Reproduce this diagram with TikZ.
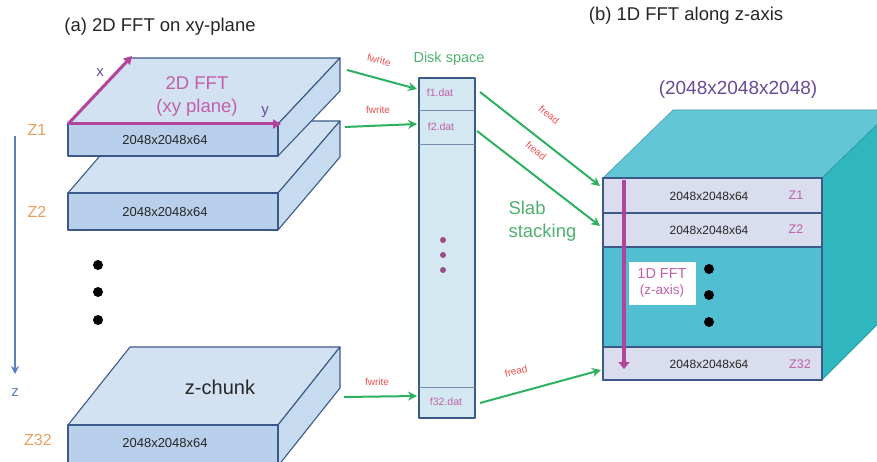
\documentclass[tikz,border=0pt]{standalone}
\usepackage{fontspec}
\setmainfont{Liberation Sans}
\usetikzlibrary{arrows.meta}
\definecolor{slabtop}{HTML}{D3E2F3}
\definecolor{slabfront}{HTML}{B9D0EC}
\definecolor{slabside}{HTML}{C6DAF0}
\definecolor{edge}{HTML}{3C5A88}
\definecolor{fftpurple}{HTML}{B2449C}
\definecolor{labpurple}{HTML}{C060A8}
\definecolor{zorange}{HTML}{E8A060}
\definecolor{zblue}{HTML}{5A80C0}
\definecolor{arrgreen}{HTML}{2DB060}
\definecolor{txtgreen}{HTML}{50B070}
\definecolor{fred}{HTML}{F05050}
\definecolor{diskfill}{HTML}{D4E8F2}
\definecolor{cubetop}{HTML}{62C6D6}
\definecolor{cubefront}{HTML}{52BED2}
\definecolor{cubeside}{HTML}{30B6BE}
\definecolor{rowfill}{HTML}{DADDEE}
\definecolor{dimpurple}{HTML}{6A4A9A}
\tikzset{
  face/.style={draw=edge, line width=1.1pt, line join=round},
  greenarrow/.style={draw=arrgreen, line width=2pt, -{Stealth[length=9pt,width=9pt]}},
  iolab/.style={text=fred, font=\fontsize{10}{11}\selectfont, inner sep=0pt},
  dimtxt/.style={font=\fontsize{13}{14}\selectfont, text=black!85},
  zlab/.style={text=zorange, font=\fontsize{16}{17}\selectfont},
  rowlab/.style={text=labpurple, font=\fontsize{12.5}{13}\selectfont},
  datlab/.style={text=labpurple, font=\fontsize{10.5}{11}\selectfont},
  bigdot/.style={circle, fill=black, inner sep=0pt, minimum size=10pt},
  diskdot/.style={circle, fill=labpurple!80!black, inner sep=0pt, minimum size=6pt},
  title/.style={font=\fontsize{18.5}{20}\selectfont, text=black!85},
}
\begin{document}
\begin{tikzpicture}[x=1pt,y=-1pt]
\useasboundingbox (0,0) rectangle (877,462);
\fill[white] (0,0) rectangle (877,462);

% titles
\node[title] (ta) at (160,27) {(a) 2D FFT on xy-plane};
\node[title] (tb) at (686,16) {(b) 1D FFT along z-axis};

% ---- slab 3 ----
\filldraw[face, fill=slabtop] (68,425) -- (278,425) -- (340,347) -- (130,347) -- cycle;
\filldraw[face, fill=slabside] (278,425) -- (340,347) -- (340,388) -- (278,466) -- cycle;
\filldraw[face, fill=slabfront] (68,425) rectangle (278,466);
\node[dimtxt] (d3) at (165,443) {2048x2048x64};
\node[font=\fontsize{20}{22}\selectfont, text=black!85] (zc) at (220,387) {z-chunk};

% z labels
\node[zlab] (z1) at (37,130) {Z1};
\node[zlab] (z2) at (37,212) {Z2};
\node[zlab] (z32) at (38,440) {Z32};
\coordinate (zs) at (15,136);
\coordinate (ze) at (15,374);
\draw[draw=zblue, line width=1.6pt, -{Stealth[length=8pt,width=8pt]}] (zs) -- (ze);
\node[text=zblue, font=\fontsize{15}{16}\selectfont] (zz) at (15,393) {z};

% dots
\node[bigdot] (b1) at (98,265) {};
\node[bigdot] (b2) at (98,292) {};
\node[bigdot] (b3) at (98,320) {};

% ---- disk ----
\filldraw[face, fill=diskfill, line width=1.3pt] (419,78) rectangle (475,418);
\draw[draw=edge!70, line width=0.6pt] (419,110) -- (475,110);
\draw[draw=edge!70, line width=0.6pt] (419,144) -- (475,144);
\draw[draw=edge!70, line width=0.6pt] (419,387) -- (475,387);
\node[font=\fontsize{14.5}{15}\selectfont, text=txtgreen] (ds) at (449,59) {Disk space};
\node[datlab] (f1) at (440,93) {f1.dat};
\node[datlab] (f2) at (441,127) {f2.dat};
\node[datlab] (f32) at (446,402) {f32.dat};
\node[diskdot] (dd1) at (443,240) {};
\node[diskdot] (dd2) at (443,255) {};
\node[diskdot] (dd3) at (443,270) {};
\coordinate (f1in) at (417,89);
\coordinate (f2in) at (417,124);
\coordinate (f32in) at (417,396);
\coordinate (f1out) at (480,92);
\coordinate (f2out) at (477,131);
\coordinate (f32out) at (480,403);

% ---- big cube ----
\filldraw[fill=cubetop, draw=cubetop!80!black, line width=0.6pt] (603,178) -- (822,178) -- (892,110) -- (673,110) -- cycle;
\filldraw[fill=cubeside, draw=cubeside!85!black, line width=0.6pt] (822,178) -- (892,110) -- (892,310) -- (822,380) -- cycle;
\filldraw[face, fill=cubefront] (603,178) rectangle (822,380);
\filldraw[face, fill=rowfill] (603,178) rectangle (822,213);
\filldraw[face, fill=rowfill] (603,213) rectangle (822,247);
\filldraw[face, fill=rowfill] (603,347) rectangle (822,380);
\node[font=\fontsize{12}{13}\selectfont, text=black!85] (r1) at (709,196) {2048x2048x64};
\node[font=\fontsize{12}{13}\selectfont, text=black!85] (r2) at (709,230) {2048x2048x64};
\node[font=\fontsize{12}{13}\selectfont, text=black!85] (r32) at (709,364) {2048x2048x64};
\node[rowlab] (q1) at (796,195) {Z1};
\node[rowlab] (q2) at (796,229) {Z2};
\node[rowlab] (q32) at (800,364) {Z32};
\node[text=dimpurple, font=\fontsize{19}{20}\selectfont] (dim) at (738,90) {(2048x2048x2048)};
\node[bigdot] (c1) at (709,269) {};
\node[bigdot] (c2) at (709,295) {};
\node[bigdot] (c3) at (709,322) {};
\coordinate (zt) at (624,180);
\coordinate (zb) at (624,369);
\draw[draw=fftpurple, line width=3.5pt, -{Triangle[length=7pt,width=11pt]}] (zt) -- (zb);
\node[fill=white, inner sep=1pt, align=center, text=labpurple, font=\fontsize{14.5}{15}\selectfont, minimum width=67pt, minimum height=43pt] (fft1d) at (662,283) {1D FFT\\[1pt]{\fontsize{13.5}{14}\selectfont (z-axis)}};
\coordinate (r1in) at (600,186);
\coordinate (r2in) at (600,226);
\coordinate (r32in) at (601,370);

% ---- slab 2 ----
\filldraw[face, fill=slabtop] (68,193) -- (278,193) -- (340,121) -- (130,121) -- cycle;
\filldraw[face, fill=slabside] (278,193) -- (340,121) -- (340,157) -- (278,230) -- cycle;
\filldraw[face, fill=slabfront] (68,193) rectangle (278,230);
\node[dimtxt] (d2) at (165,212) {2048x2048x64};
% ---- slab 1 ----
\filldraw[face, fill=slabtop] (68,124) -- (278,124) -- (340,58) -- (130,58) -- cycle;
\filldraw[face, fill=slabside] (278,124) -- (340,58) -- (340,91) -- (278,156) -- cycle;
\filldraw[face, fill=slabfront] (68,124) rectangle (278,156);
\node[dimtxt] (d1) at (165,140) {2048x2048x64};
\coordinate (o) at (68,124);
\coordinate (xe) at (132,56);
\coordinate (ye) at (281,124);
\draw[draw=fftpurple, line width=3pt, -{Triangle[length=8pt,width=9pt]}] (o) -- (xe);
\draw[draw=fftpurple, line width=3pt, -{Triangle[length=8pt,width=9pt]}] (o) -- (ye);
\node[text=dimpurple, font=\fontsize{15}{16}\selectfont] (xl) at (100,73) {x};
\node[text=dimpurple, font=\fontsize{15}{16}\selectfont] (yl) at (265,112) {y};
\node[text=labpurple, align=center, font=\fontsize{18.5}{23}\selectfont] (fft2d) at (197,96) {2D FFT\\(xy plane)};

% slab out coordinates
\coordinate (s1) at (347,70);
\coordinate (s2) at (345,127);
\coordinate (s3) at (344,397);

% fwrite arrows
\draw[greenarrow] (s1) -- (f1in);
\draw[greenarrow] (s2) -- (f2in);
\draw[greenarrow] (s3) -- (f32in);
\node[iolab, rotate=-14] (w1) at (379,60) {fwrite};
\node[iolab] (w2) at (378,110) {fwrite};
\node[iolab] (w3) at (377,382) {fwrite};

% fread arrows
\draw[greenarrow] (f1out) -- (r1in);
\draw[greenarrow] (f2out) -- (r2in);
\draw[greenarrow] (f32out) -- (r32in);
\node[iolab, rotate=-38] (rd1) at (549,115) {fread};
\node[iolab, rotate=-38] (rd2) at (536,151) {fread};
\node[iolab, rotate=14] (rd3) at (516,371) {fread};

\node[text=txtgreen, align=left, font=\fontsize{18.5}{23}\selectfont, anchor=west] (slab) at (505,221) {Slab\\stacking};
\end{tikzpicture}
\end{document}
